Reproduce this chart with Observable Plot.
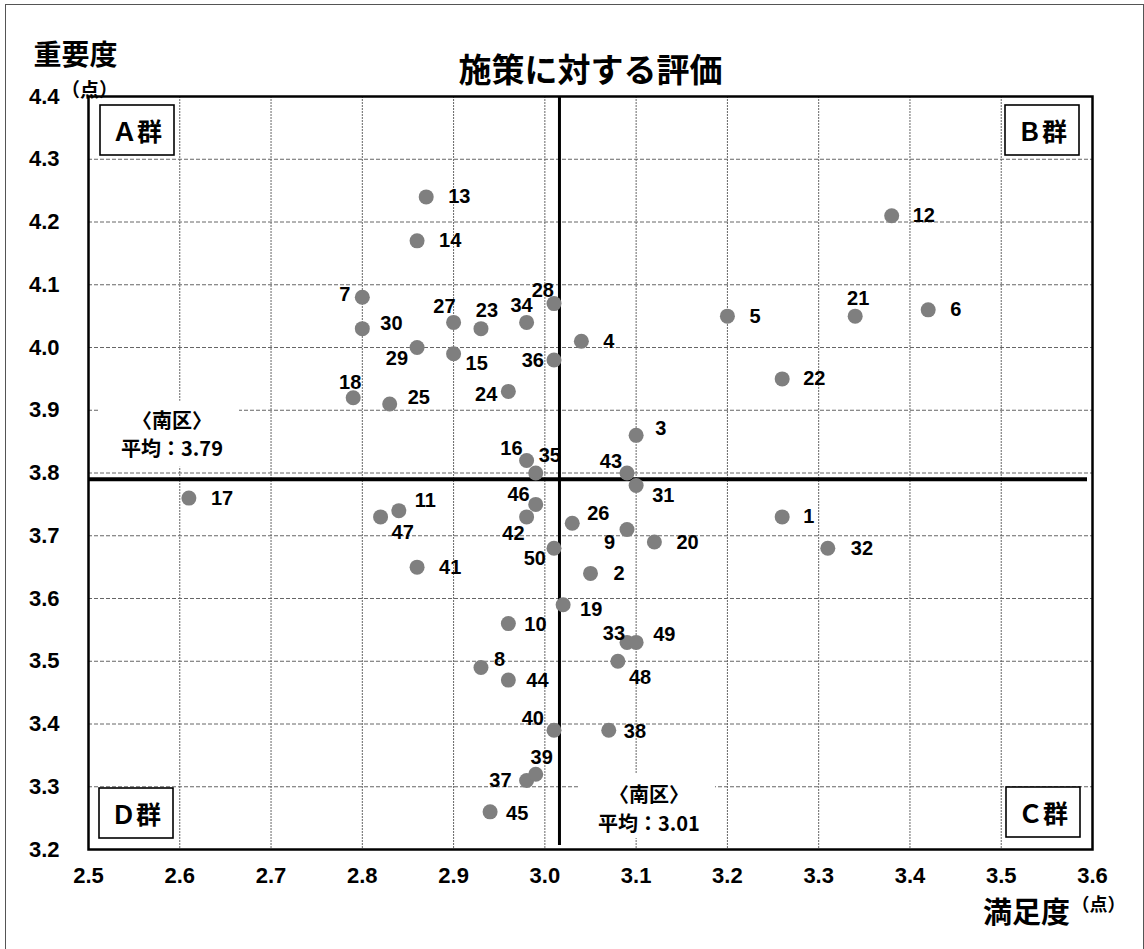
<!DOCTYPE html>
<html><head><meta charset="utf-8">
<script src="https://cdn.jsdelivr.net/npm/d3@7"></script>
<script src="https://cdn.jsdelivr.net/npm/@observablehq/plot@0.6"></script>
<style>
body{margin:0;background:#fff;}
#wrap{position:relative;width:1144px;height:949px;overflow:hidden;background:#fff;}
#border{position:absolute;left:5px;top:4px;width:1139px;height:990px;border:1px solid #555;box-sizing:border-box;pointer-events:none;}
svg{display:block;}
</style></head><body><div id="wrap"></div>
<script>
// ---- data ----
const ids = [1,2,3,4,5,6,7,8,9,10,11,12,13,14,15,16,17,18,19,20,21,22,23,24,25,26,27,28,29,30,31,32,33,34,35,36,37,38,39,40,41,42,43,44,45,46,47,48,49,50];
const satisfaction = [3.26,3.05,3.10,3.04,3.20,3.42,2.80,2.93,3.09,2.96,2.84,3.38,2.87,2.86,2.90,2.98,2.61,2.79,3.02,3.12,3.34,3.26,2.93,2.96,2.83,3.03,2.90,3.01,2.86,2.80,3.10,3.31,3.09,2.98,2.99,3.01,2.98,3.07,2.99,3.01,2.86,2.98,3.09,2.96,2.94,2.99,2.82,3.08,3.10,3.01];
const importance   = [3.73,3.64,3.86,4.01,4.05,4.06,4.08,3.49,3.71,3.56,3.74,4.21,4.24,4.17,3.99,3.82,3.76,3.92,3.59,3.69,4.05,3.95,4.03,3.93,3.91,3.72,4.04,4.07,4.00,4.03,3.78,3.68,3.53,4.04,3.80,3.98,3.31,3.39,3.32,3.39,3.65,3.73,3.80,3.47,3.26,3.75,3.73,3.50,3.53,3.68];
const meanSatisfaction = 3.016;
const meanImportance = 3.79;
const meanSatisfactionLabel = "平均：3.01";
const meanImportanceLabel = "平均：3.79";
const areaLabel = "〈南区〉";
const xTicks = [2.5,2.6,2.7,2.8,2.9,3.0,3.1,3.2,3.3,3.4,3.5,3.6];
const yTicks = [3.2,3.3,3.4,3.5,3.6,3.7,3.8,3.9,4.0,4.1,4.2,4.3,4.4];
const groups = ["Ａ群","Ｂ群","Ｃ群","Ｄ群"];
const title = "施策に対する評価";
const yTitle = "重要度";
const xTitle = "満足度";
const unit = "（点）";

// ---- label placement (style) ----
const labelOffset = {
 1:[21,0,"start"],2:[23,0,"start"],3:[19,-7,"start"],4:[22,0,"start"],5:[22,0,"start"],
 6:[22,0,"start"],7:[-12,-3,"end"],8:[13,-8,"start"],9:[-12,13,"end"],10:[16,1,"start"],
 11:[16,-10,"start"],12:[21,0,"start"],13:[22,0,"start"],14:[22,0,"start"],15:[12,10,"start"],
 16:[-4,-12,"end"],17:[22,0,"start"],18:[-3,-15,"middle"],19:[17,5,"start"],20:[22,1,"start"],
 21:[3,-18,"middle"],22:[21,0,"start"],23:[6,-18,"middle"],24:[-11,3,"end"],25:[18,-6,"start"],
 26:[15,-10,"start"],27:[2,-16,"end"],28:[0,-13,"end"],29:[-9,11,"end"],30:[18,-5,"start"],
 31:[16,10,"start"],32:[23,0,"start"],33:[-2,-9,"end"],34:[-5,-17,"middle"],35:[3,-17,"start"],
 36:[-10,1,"end"],37:[-15,0,"end"],38:[15,1,"start"],39:[6,-17,"middle"],40:[-10,-12,"end"],
 41:[22,0,"start"],42:[-2,17,"end"],43:[-5,-11,"end"],44:[18,1,"start"],45:[16,2,"start"],
 46:[-6,-10,"end"],47:[11,16,"start"],48:[11,16,"start"],49:[17,-8,"start"],50:[-8,10,"end"]
};

const data = ids.map((id,i)=>({id, x:satisfaction[i], y:importance[i]}));
const CJK = "'Noto Sans CJK JP', sans-serif";
const fmt = d => d.toFixed(1);

const labelMarks = data.map(d => {
  const [dx,dy,anchor] = labelOffset[d.id];
  return Plot.text([d], {x:"x", y:"y", text: d=>String(d.id), dx, dy, textAnchor:anchor,
    fontSize:20, fontWeight:"bold", fill:"#000"});
});

const plot = Plot.plot({
  width:1144, height:949,
  marginLeft:88, marginRight:52, marginTop:96, marginBottom:100,
  style:{fontFamily:"'Liberation Sans', Arial, sans-serif", fontWeight:"bold", fontSize:"22px", background:"#fff", color:"#000"},
  x:{domain:[2.5,3.6], label:null},
  y:{domain:[3.2,4.4], label:null},
  marks:[
    Plot.gridX(xTicks.slice(1,-1), {stroke:"#666", strokeOpacity:1, strokeWidth:1, strokeDasharray:"2,1"}),
    Plot.gridY(yTicks.slice(1,-1), {stroke:"#666", strokeOpacity:1, strokeWidth:1, strokeDasharray:"4,2"}),
    Plot.axisX(xTicks, {tickSize:0, tickPadding:18, tickFormat:fmt, fontSize:22, fontWeight:"bold", label:null}),
    Plot.axisY(yTicks, {tickSize:0, tickPadding:29, tickFormat:fmt, fontSize:22, fontWeight:"bold", label:null}),
    Plot.frame({stroke:"#000", strokeWidth:2.5}),
    Plot.ruleY([meanImportance], {stroke:"#000", strokeWidth:4, insetRight:5}),
    Plot.ruleX([meanSatisfaction], {stroke:"#000", strokeWidth:3, insetBottom:4}),
    Plot.dot(data, {x:"x", y:"y", r:7.5, fill:"#7f7f7f", stroke:"none"}),
    ...labelMarks,
    Plot.text([title], {frameAnchor:"top", dy:-38, fontSize:33, fontFamily:CJK, fontWeight:"bold"}),
    Plot.text([yTitle], {frameAnchor:"top-left", dx:-13, dy:-51, textAnchor:"middle", fontSize:28, fontFamily:CJK, fontWeight:"bold"}),
    Plot.text([unit], {frameAnchor:"top-left", dx:1, dy:-13, textAnchor:"middle", fontSize:19, fontFamily:CJK, fontWeight:"bold"}),
    Plot.text([xTitle], {frameAnchor:"bottom-right", dx:-66, dy:73, textAnchor:"middle", fontSize:29, fontFamily:CJK, fontWeight:"bold"}),
    Plot.text([unit], {frameAnchor:"bottom-right", dx:6, dy:61, textAnchor:"middle", fontSize:18, fontFamily:CJK, fontWeight:"bold"})
  ]
});

document.getElementById("wrap").appendChild(plot);
const b = document.createElement("div"); b.id="border"; document.getElementById("wrap").appendChild(b);

// ---- annotations positioned from the plot's scales ----
const sx = plot.scale("x"), sy = plot.scale("y");
const fx0 = Math.min(...sx.range), fx1 = Math.max(...sx.range);
const fy0 = Math.max(...sy.range), fy1 = Math.min(...sy.range); // bottom, top
const svg = d3.select(plot);
const g = svg.append("g");
const bw = 74, bh = 50;
const boxes = [
  {t:groups[0], x:fx0+12, y:fy1+9},
  {t:groups[1], x:fx1-13-bw, y:fy1+9},
  {t:groups[2], x:fx1-12-bw, y:fy0-12-bh},
  {t:groups[3], x:fx0+11, y:fy0-11-bh}
];
boxes.forEach(o=>{
  g.append("rect").attr("x",o.x).attr("y",o.y).attr("width",bw).attr("height",bh)
    .attr("fill","#fff").attr("stroke","#000").attr("stroke-width",1.6);
  g.append("text").attr("x",o.x+bw/2).attr("y",o.y+bh/2).attr("text-anchor","middle")
    .attr("dominant-baseline","central").attr("font-family",CJK).attr("font-size",25)
    .attr("font-weight","bold").text(o.t);
});
function meanLabel(cx, y1, y2, bx0, bx1, by0, by1, txt){
  g.append("rect").attr("x",bx0).attr("y",by0).attr("width",bx1-bx0).attr("height",by1-by0).attr("fill","#fff");
  [[areaLabel,y1],[txt,y2]].forEach(([s,y])=>{
    g.append("text").attr("x",cx).attr("y",y).attr("text-anchor","middle").attr("dominant-baseline","central")
      .attr("font-family",CJK).attr("font-size",20).attr("font-weight","bold").text(s);
  });
}
const my = sy.apply(meanImportance), mx = sx.apply(meanSatisfaction);
meanLabel(fx0+84, my-59, my-31, fx0+12, fx0+151, my-78, my-12, meanImportanceLabel);
meanLabel(mx+90, fy0-56, fy0-27, mx+19, mx+156, fy0-76, fy0-11, meanSatisfactionLabel);
</script></body></html>
